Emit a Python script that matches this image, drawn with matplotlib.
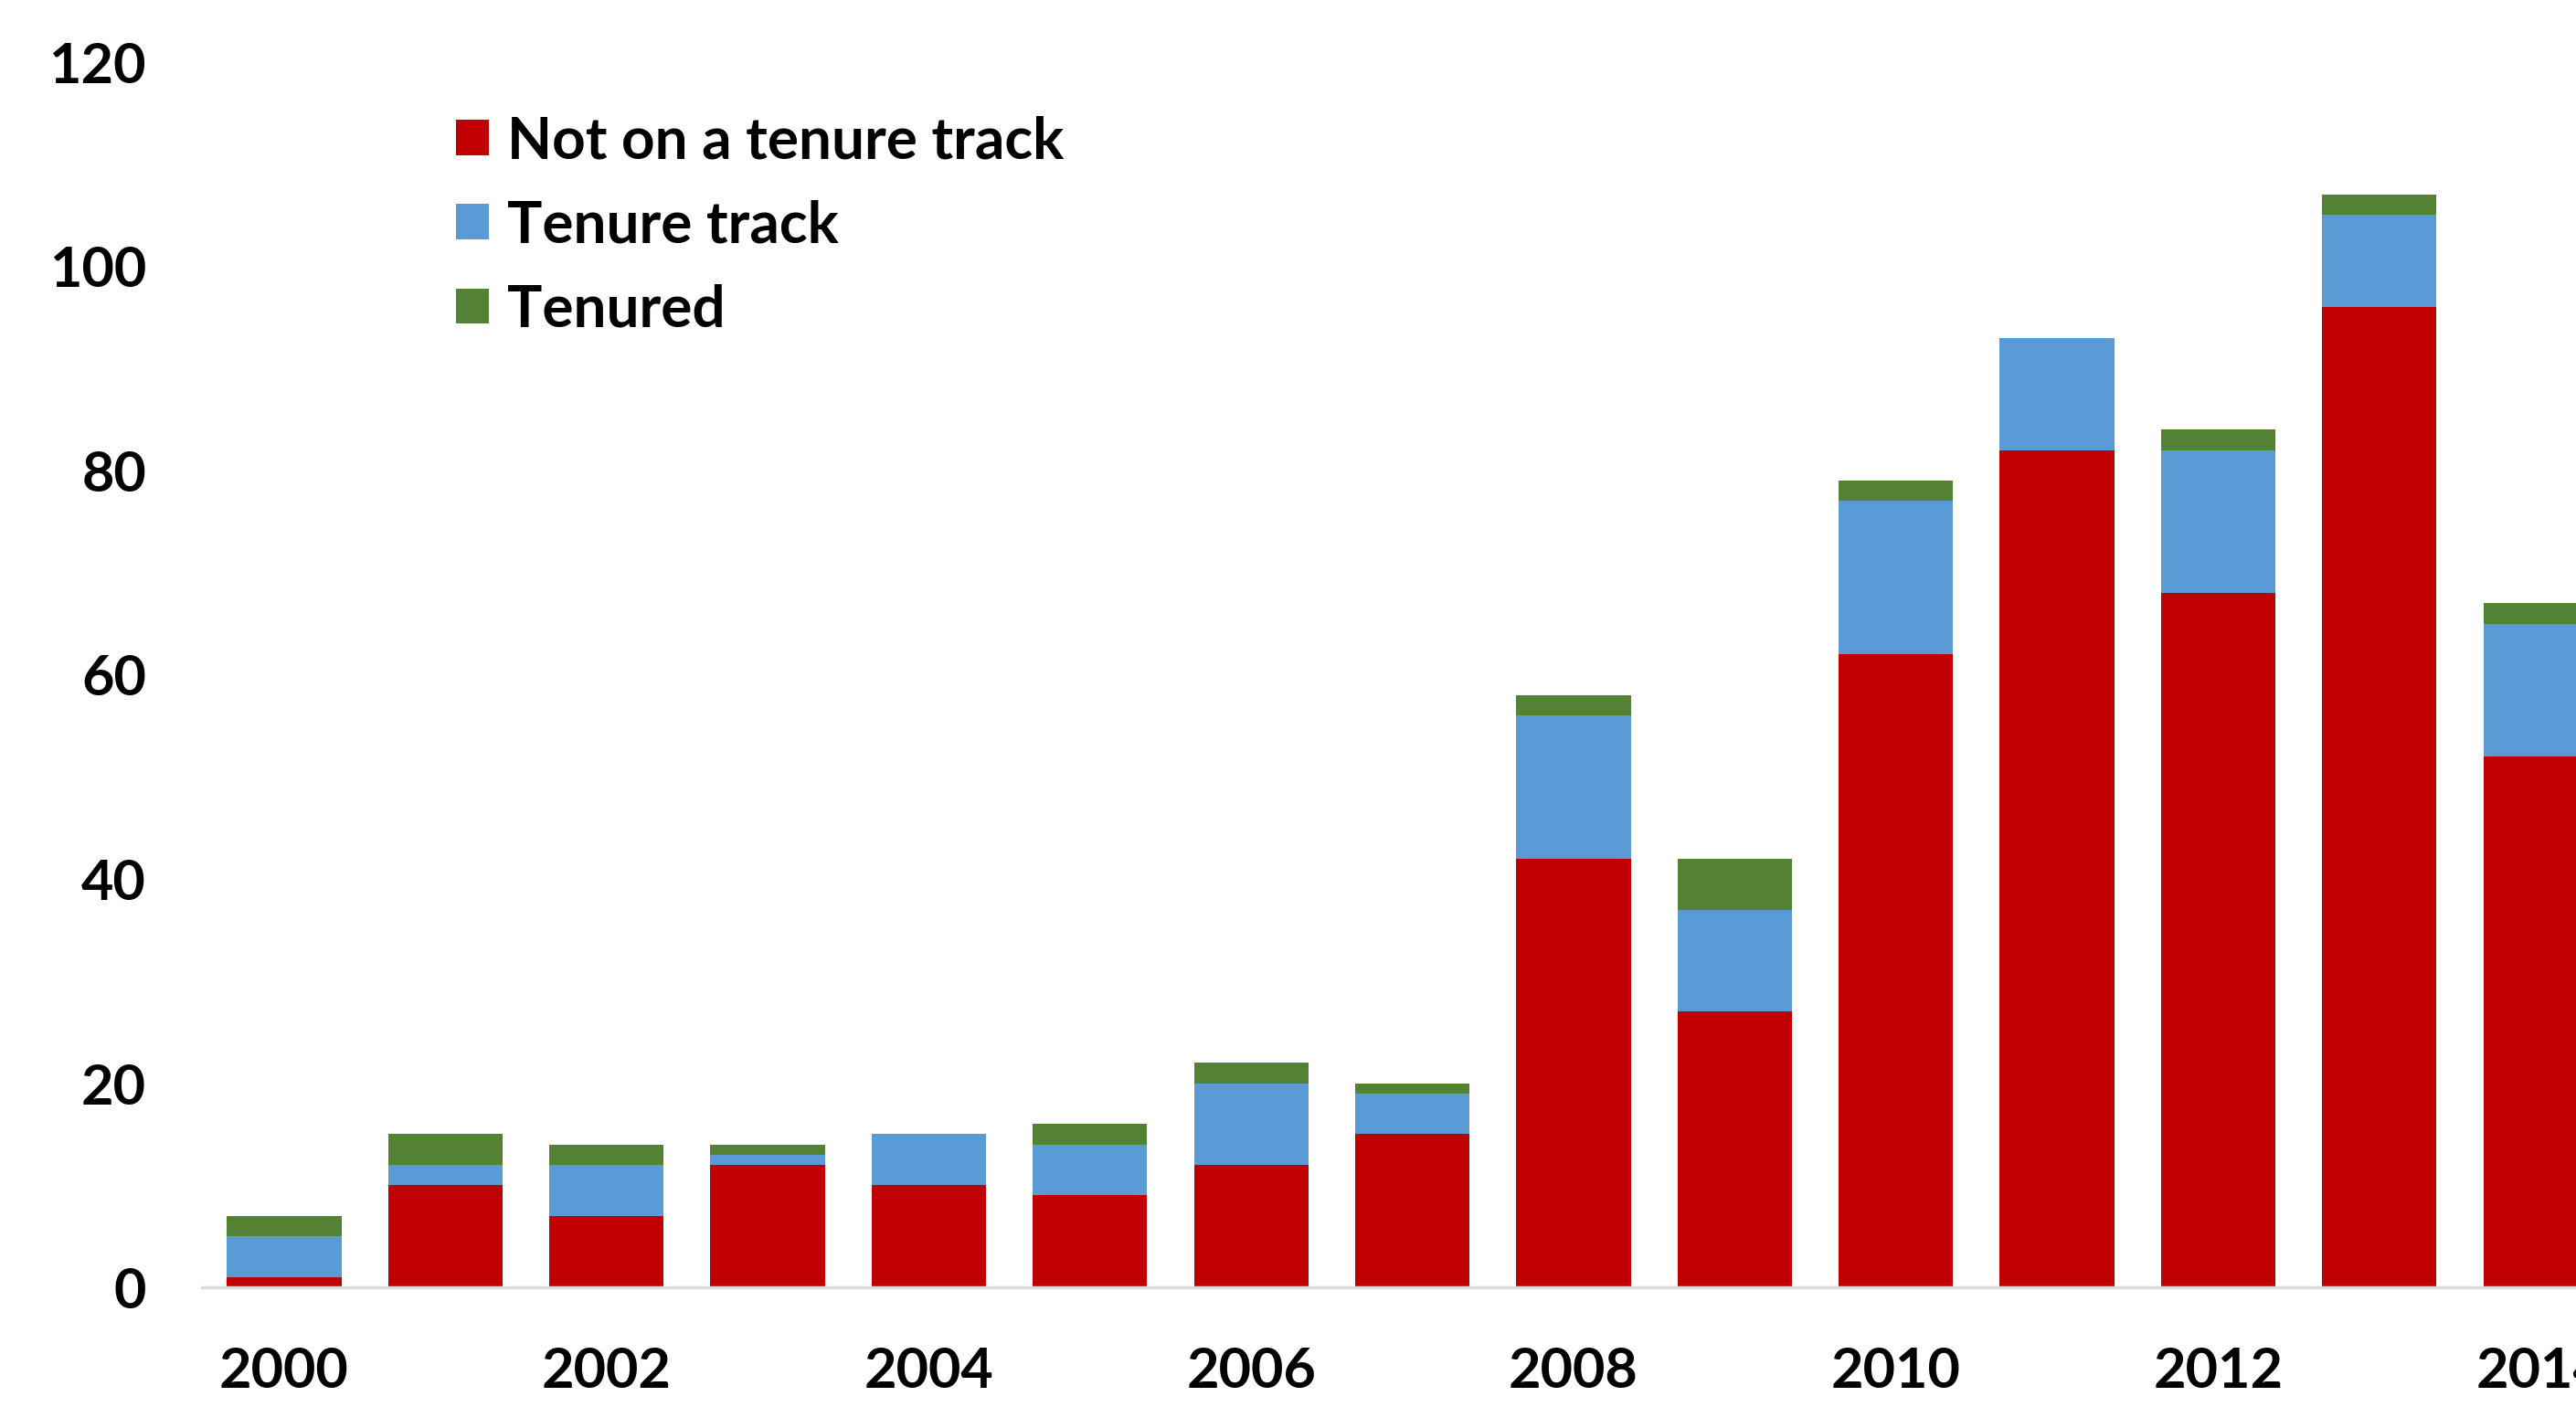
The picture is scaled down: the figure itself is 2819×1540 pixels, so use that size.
import matplotlib.pyplot as plt
import numpy as np

years = [2000, 2001, 2002, 2003, 2004, 2005, 2006, 2007,
         2008, 2009, 2010, 2011, 2012, 2013, 2014]
not_tenure_track = [1, 10, 7, 12, 10, 9, 12, 15, 42, 27, 62, 82, 68, 96, 52]
tenure_track = [4, 2, 5, 1, 5, 5, 8, 4, 14, 10, 15, 11, 14, 9, 13]
tenured = [2, 3, 2, 1, 0, 2, 2, 1, 2, 5, 2, 0, 2, 2, 2]
tick_years = [2000, 2002, 2004, 2006, 2008, 2010, 2012, 2014]

plt.rcParams['font.family'] = ['Lato', 'DejaVu Sans']
plt.rcParams['font.weight'] = 'bold'

fig = plt.figure(figsize=(28.19, 15.40), dpi=100)
ax = fig.add_axes([0.0784, 0.085, 0.9216, 0.871])

x = np.arange(len(years))
a = np.array(not_tenure_track)
b = np.array(tenure_track)
c = np.array(tenured)
ax.bar(x, a, width=0.71, color='#C00000', label='Not on a tenure track')
ax.bar(x, b, width=0.71, bottom=a, color='#5B9BD5', label='Tenure track')
ax.bar(x, c, width=0.71, bottom=a + b, color='#548235', label='Tenured')

ax.set_ylim(0, 120)
ax.set_xlim(-0.51, 14.22)
ax.set_yticks(range(0, 121, 20))
ax.set_xticks([years.index(y) for y in tick_years])
ax.set_xticklabels([str(y) for y in tick_years])
ax.tick_params(axis='y', length=0, pad=44, labelsize=44)
ax.tick_params(axis='x', length=0, pad=46, labelsize=44)
for lab in ax.get_xticklabels() + ax.get_yticklabels():
    lab.set_fontweight('bold')

for s in ['top', 'right', 'left']:
    ax.spines[s].set_visible(False)
ax.spines['bottom'].set_color('#d9d9d9')
ax.spines['bottom'].set_linewidth(2.5)

ax.legend(loc='upper left', bbox_to_anchor=(0.177, 0.918), bbox_transform=fig.transFigure,
          frameon=False, handlelength=0.56, handleheight=0.56,
          handletextpad=0.32, labelspacing=0.55, borderaxespad=0, borderpad=0,
          prop={'weight': 'bold', 'size': 46})

fig.savefig('out.png', dpi=100)
